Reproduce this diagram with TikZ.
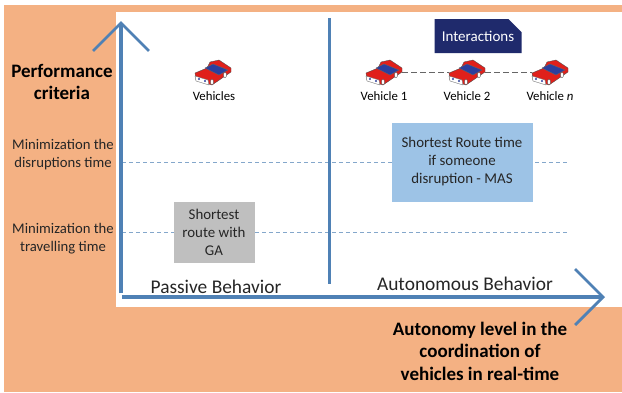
\documentclass[tikz,border=0pt]{standalone}
\usepackage{xcolor}
\usepackage{fontspec}
\setmainfont{Carlito}
\usepackage{tikz}
\usetikzlibrary{arrows.meta, shapes.misc}
\definecolor{panelorange}{HTML}{F4B183}
\definecolor{axisblue}{HTML}{4F81B5}
\definecolor{boxblue}{HTML}{9DC3E6}
\definecolor{boxgray}{HTML}{BFBFBF}
\definecolor{navy}{HTML}{1F2A6C}
\definecolor{carred}{HTML}{E0201B}
\definecolor{carblue}{HTML}{2B3F9E}

\begin{document}
\begin{tikzpicture}[x=1pt,y=-1pt]
\tikzstyle{axis} = [axisblue, line width=4pt, -{Straight Barb[length=28pt,width=56pt,line width=2.8pt]}]
\tikzstyle{level} = [axisblue!70, line width=.8pt, dash pattern=on 4pt off 3pt]
\tikzstyle{title} = [font=\fontsize{19}{22.5}\selectfont\bfseries, align=center, text=black]
\tikzstyle{crit} = [font=\fontsize{14.7}{18}\selectfont, align=center, text=black!85]
\tikzstyle{behav} = [font=\fontsize{19.4}{21}\selectfont, text=black!85]
\tikzstyle{veh} = [font=\fontsize{12.8}{14}\selectfont, text=black]
\tikzstyle{solution} = [font=\fontsize{14.9}{18}\selectfont, align=center, text=black!85, inner sep=0pt]
\tikzstyle{carbox} = [inner sep=0pt, minimum width=36pt, minimum height=24pt]
\tikzset{car/.pic={
  \begin{scope}[yscale=-1, line width=.35pt, line join=round]
    \filldraw[fill=carred, draw=black!70] (-18,-1) -- (-6,4) -- (-3,10) -- (6,12) -- (18,4) -- (18,0) -- (-1,-13) -- (-17,-8) -- cycle;
    \filldraw[fill=carblue, draw=black!60] (-8,4) -- (0,8) -- (15,2) -- (6,-3) -- cycle;
    \filldraw[fill=white, draw=black!60] (-18,-4) -- (-5,-8) -- (-4,-13) -- (-17,-9) -- cycle;
    \fill[carblue] (-14,-7) circle (1.1) (-8,-9) circle (1.1);
    \filldraw[fill=white, draw=black!70] (-1,-10) ellipse (1.6 and 2.6) (12,-3) ellipse (1.6 and 2.6);
  \end{scope}
}}
  \useasboundingbox (0,0) rectangle (622,392);
  \fill [panelorange] (4,5) rectangle (622,392);
  \fill [white] (116,12) rectangle (622,307);

  \draw
  node (car0) [carbox] at (213,72) {}
  node (car1) [carbox] at (384,72) {}
  node (car2) [carbox] at (467,72) {}
  node (car3) [carbox] at (550,72) {}

  node (vehicles) [veh] at (214,96) {Vehicles}
  node (veh1) [veh] at (384,96) {Vehicle 1}
  node (veh2) [veh] at (467,96) {Vehicle 2}
  node (veh3) [veh] at (550,96) {Vehicle \textit{n}}

  coordinate (o) at (122,297)
  coordinate (ybot) at (121,293)
  coordinate (ytop) at (121,21)
  coordinate (xend) at (605,297)
  coordinate (sepa) at (329,18)
  coordinate (sepb) at (329,284)
  coordinate (l1a) at (122,162)
  coordinate (l1b) at (568,162)
  coordinate (l2a) at (122,232)
  coordinate (l2b) at (568,232);

  \draw [level] (l1a) -- (l1b);
  \draw [level] (l2a) -- (l2b);
  \draw [axis] (ybot) -- (ytop);
  \draw [axis] (o) -- (xend);
  \draw [axisblue, line width=3pt] (sepa) -- (sepb);

  \draw [black!60, line width=1pt, dash pattern=on 6pt off 3pt] (car1) -- (car2);
  \draw [black!60, line width=1pt, dash pattern=on 6pt off 3pt] (car2) -- (car3);
  \foreach \c in {car0,car1,car2,car3}
    \pic at (\c) {car};

  \node (inter) [chamfered rectangle, chamfered rectangle corners=north east, chamfered rectangle xsep=8pt, chamfered rectangle ysep=8pt,
    fill=navy, text=white, inner sep=0pt, minimum width=87pt, minimum height=34pt, font=\fontsize{15}{18}\selectfont] at (478,36) {Interactions};

  \node (ga) [solution, fill=boxgray, minimum width=81pt, minimum height=61pt] at (214,232) {Shortest\\route with\\GA};
  \node (mas) [solution, fill=boxblue, minimum width=141pt, minimum height=79pt] at (462,162) {Shortest Route time\\if someone\\disruption - MAS};

  \node (perf) [title] at (62,82) {Performance\\criteria};
  \node (dis) [crit] at (63,155) {Minimization the\\disruptions time};
  \node (tra) [crit] at (63,239) {Minimization the\\travelling time};
  \node (pas) [behav] at (216,287) {Passive Behavior};
  \node (aut) [behav] at (465,284) {Autonomous Behavior};
  \node (lev) [title] at (480,351) {Autonomy level in the\\coordination of\\vehicles in real-time};
\end{tikzpicture}
\end{document}
